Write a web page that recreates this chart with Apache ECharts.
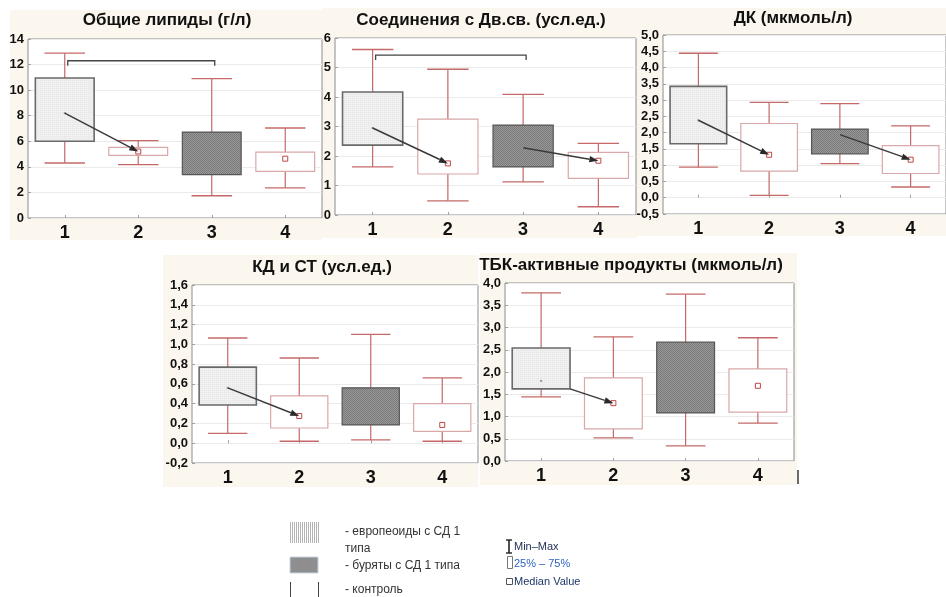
<!DOCTYPE html>
<html>
<head>
<meta charset="utf-8">
<script src="https://cdn.jsdelivr.net/npm/echarts@6/dist/echarts.min.js"></script>
<style>
html, body { margin: 0; padding: 0; background: #fff; }
#chart { width: 946px; height: 597px; }
</style>
</head>
<body>
<div id="chart"></div>
<script>
// Group labels on every x axis
const groups = ['1', '2', '3', '4'];

// Each row: [min, Q1, median, Q3, max] for groups 1..4 (null = median not shown)
const lipids      = [[4.3, 6.0, 8.2, 10.95, 12.9], [4.17, 4.9, 5.2, 5.52, 6.05], [1.74, 3.39, null, 6.72, 10.9], [2.35, 3.65, 4.64, 5.16, 7.04]];
const doubleBonds = [[1.63, 2.37, 2.95, 4.17, 5.61], [0.48, 1.39, 1.75, 3.25, 4.94], [1.12, 1.63, 2.28, 3.05, 4.09], [0.28, 1.24, 1.84, 2.12, 2.43]];
const dienes      = [[0.94, 1.66, 2.38, 3.42, 4.44], [0.07, 0.82, 1.32, 2.28, 2.93], [1.05, 1.35, 1.94, 2.11, 2.89], [0.33, 0.745, 1.17, 1.60, 2.21]];
const ketodienes  = [[0.10, 0.387, 0.56, 0.77, 1.064], [0.02, 0.154, 0.275, 0.478, 0.862], [0.033, 0.185, null, 0.56, 1.10], [0.02, 0.12, 0.185, 0.40, 0.66]];
const tbaProducts = [[1.44, 1.62, 1.80, 2.54, 3.78], [0.52, 0.72, 1.30, 1.87, 2.79], [0.34, 1.08, null, 2.67, 3.75], [0.85, 1.10, 1.69, 2.07, 2.77]];

// Arrows: [from group, from value, to group, to value]
const lipidsArrows      = [[0, 8.2, 1, 5.2]];
const doubleBondsArrows = [[0, 2.95, 1, 1.75], [2, 2.28, 3, 1.84]];
const dienesArrows      = [[0, 2.38, 1, 1.32], [2, 1.94, 3, 1.17]];
const ketodienesArrows  = [[0, 0.56, 1, 0.275]];
const tbaArrows         = [[0, 1.62, 1, 1.30]];

// Significance brackets: [from group, to group, level]
const lipidsBrackets      = [[0, 2, 12.3]];
const doubleBondsBrackets = [[0, 2, 5.42]];

const titles = ['Общие липиды (г/л)', 'Соединения с Дв.св. (усл.ед.)', 'ДК (мкмоль/л)', 'КД и СТ (усл.ед.)', 'ТБК-активные продукты (мкмоль/л)'];
const yMin  = [0, 0, -0.5, -0.2, 0];
const yMax  = [14, 6, 5, 1.6, 4];
const yStep = [2, 1, 0.5, 0.2, 0.5];
const yDecimals = [0, 0, 1, 1, 1];

const legendGroups = ['- европеоиды с СД 1', 'типа', '- буряты с СД 1 типа', '- контроль'];
const legendStats  = ['Min–Max', '25% – 75%', 'Median Value'];

const boxesByPanel    = [lipids, doubleBonds, dienes, ketodienes, tbaProducts];
const arrowsByPanel   = [lipidsArrows, doubleBondsArrows, dienesArrows, ketodienesArrows, tbaArrows];
const bracketsByPanel = [lipidsBrackets, doubleBondsBrackets, [], [], []];

// Panel geometry: plot rectangle [left, top, width, height], beige backdrop, title anchor
const panelLayout = [
  { grid: { left: 28, top: 39, width: 294, height: 179 },  back: [10, 10, 312, 230],  title: [167, 20], arrowFromEdge: false },
  { grid: { left: 335, top: 38, width: 301, height: 177 }, back: [322, 8, 315, 230],  title: [481, 20], arrowFromEdge: false },
  { grid: { left: 663, top: 35, right: -7, height: 179 },  back: [637, 8, 309, 228],  title: [793, 18], arrowFromEdge: false },
  { grid: { left: 192, top: 285, width: 286, height: 178 }, back: [163, 255, 315, 232], title: [322, 267], arrowFromEdge: false },
  { grid: { left: 505, top: 283, width: 289, height: 178 }, back: [480, 253, 317, 232], title: [631, 265], arrowFromEdge: true }
];

function makePattern(w, h, paint) {
  const cv = document.createElement('canvas');
  cv.width = w; cv.height = h;
  const ctx = cv.getContext('2d');
  paint(ctx);
  return { image: cv, repeat: 'repeat' };
}
const lightFill = makePattern(2, 2, ctx => {
  ctx.fillStyle = '#f0f0f0'; ctx.fillRect(0, 0, 2, 2);
  ctx.fillStyle = '#e6e6e6'; ctx.fillRect(0, 0, 1, 1);
});
const darkFill = makePattern(2, 2, ctx => {
  ctx.fillStyle = '#979797'; ctx.fillRect(0, 0, 2, 2);
  ctx.fillStyle = '#7b7b7b'; ctx.fillRect(0, 0, 1, 1); ctx.fillRect(1, 1, 1, 1);
});
const stripeFill = makePattern(2, 2, ctx => {
  ctx.fillStyle = '#ffffff'; ctx.fillRect(0, 0, 2, 2);
  ctx.fillStyle = '#b4b4b4'; ctx.fillRect(0, 0, 1, 2);
});

const WHISKER = '#c46868';
const PLAIN_BORDER = '#d9a8a8';

function renderBox(params, api) {
  const g = api.value(0);
  const mn = api.value(1), q1 = api.value(2), md = api.value(3), q3 = api.value(4), mx = api.value(5);
  const band = api.size([1, 0])[0];
  const x = api.coord([g, 0])[0];
  const y = v => api.coord([g, v])[1];
  const bw = band * 0.8, cw = band * 0.55;
  const kind = g === 0 ? 'light' : (g === 2 ? 'dark' : 'plain');
  const children = [
    { type: 'line', shape: { x1: x, y1: y(mn), x2: x, y2: y(mx) }, style: { stroke: WHISKER, lineWidth: 1.2 } },
    { type: 'line', shape: { x1: x - cw / 2, y1: y(mn), x2: x + cw / 2, y2: y(mn) }, style: { stroke: WHISKER, lineWidth: 1.3 } },
    { type: 'line', shape: { x1: x - cw / 2, y1: y(mx), x2: x + cw / 2, y2: y(mx) }, style: { stroke: WHISKER, lineWidth: 1.3 } }
  ];
  const boxStyle = kind === 'light' ? { fill: lightFill, stroke: '#6a6a6a', lineWidth: 1.6 }
                 : kind === 'dark'  ? { fill: darkFill, stroke: '#555555', lineWidth: 1.2 }
                 : { fill: '#ffffff', stroke: PLAIN_BORDER, lineWidth: 1.2 };
  children.push({ type: 'rect', shape: { x: x - bw / 2, y: y(q3), width: bw, height: y(q1) - y(q3) }, style: boxStyle });
  if (md != null && !isNaN(md)) {
    if (kind === 'plain') {
      children.push({ type: 'rect', shape: { x: x - 2.5, y: y(md) - 2.5, width: 5, height: 5 }, style: { fill: '#fff', stroke: '#c04646', lineWidth: 1 } });
    } else {
      children.push({ type: 'rect', shape: { x: x - 1, y: y(md) - 1, width: 2, height: 2 }, style: { fill: '#9a9a9a' } });
    }
  }
  return { type: 'group', children };
}

function arrowRenderer(fromEdge) {
  return function (params, api) {
    const band = api.size([1, 0])[0];
    const p0 = api.coord([api.value(0), api.value(1)]);
    const p1 = api.coord([api.value(2), api.value(3)]);
    if (fromEdge) p0[0] += band * 0.4;
    const ang = Math.atan2(p1[1] - p0[1], p1[0] - p0[0]);
    const dx = Math.cos(ang), dy = Math.sin(ang);
    const L = 9, W = 3.2;
    const bx = p1[0] - L * dx, by = p1[1] - L * dy;
    return {
      type: 'group',
      children: [
        { type: 'line', shape: { x1: p0[0], y1: p0[1], x2: bx, y2: by }, style: { stroke: '#3a3a3a', lineWidth: 1.5 } },
        { type: 'polygon', shape: { points: [[p1[0], p1[1]], [bx - W * dy, by + W * dx], [bx + W * dy, by - W * dx]] }, style: { fill: '#2a2a2a' } }
      ]
    };
  };
}

function renderBracket(params, api) {
  const a = api.coord([api.value(0), api.value(2)]);
  const b = api.coord([api.value(1), api.value(2)]);
  const t = 5;
  return {
    type: 'polyline',
    shape: { points: [[a[0] + 3, a[1] + t], [a[0] + 3, a[1]], [b[0] + 3, b[1]], [b[0] + 3, b[1] + t]] },
    style: { stroke: '#444', lineWidth: 1.3, fill: null }
  };
}

const grids = [], xAxes = [], yAxes = [], series = [], graphics = [];
panelLayout.forEach((p, i) => {
  grids.push(Object.assign({ show: true, backgroundColor: '#ffffff', borderColor: '#8c8c8c', borderWidth: 1 }, p.grid));
  xAxes.push({
    type: 'category', gridIndex: i, data: groups,
    axisLine: { show: false },
    axisTick: { show: true, inside: true, alignWithLabel: true, length: 3, lineStyle: { color: '#a0a0a0' } },
    axisLabel: { color: '#111', fontSize: 18, fontWeight: 'bold', fontFamily: 'Liberation Sans', margin: 6 },
    splitLine: { show: false }
  });
  yAxes.push({
    type: 'value', gridIndex: i, min: yMin[i], max: yMax[i], interval: yStep[i],
    axisLine: { show: false },
    axisTick: { show: true, inside: true, length: 3, lineStyle: { color: '#a0a0a0' } },
    axisLabel: {
      color: '#111', fontSize: 13, fontWeight: 'bold', fontFamily: 'Liberation Sans', margin: 4,
      formatter: v => v.toFixed(yDecimals[i]).replace('.', ',')
    },
    splitLine: { show: true, lineStyle: { color: '#ebebeb', width: 1 } }
  });
  series.push({
    type: 'custom', xAxisIndex: i, yAxisIndex: i, renderItem: renderBox, z: 3,
    data: boxesByPanel[i].map((r, g) => [g].concat(r.map(v => v == null ? NaN : v)))
  });
  if (bracketsByPanel[i].length) {
    series.push({ type: 'custom', xAxisIndex: i, yAxisIndex: i, renderItem: renderBracket, z: 4, data: bracketsByPanel[i] });
  }
  series.push({ type: 'custom', xAxisIndex: i, yAxisIndex: i, renderItem: arrowRenderer(p.arrowFromEdge), z: 5, data: arrowsByPanel[i] });

  const [bx, by, bw, bh] = p.back;
  graphics.push({ type: 'rect', z: -10, shape: { x: bx, y: by, width: bw, height: bh }, style: { fill: '#fcf7ee' } });
  graphics.push({
    type: 'text', z: 10, x: p.title[0], y: p.title[1],
    style: { text: titles[i], font: 'bold 17px "Liberation Sans"', fill: '#111', align: 'center', verticalAlign: 'middle' }
  });
});

// Legend: group swatches
graphics.push({ type: 'rect', shape: { x: 290, y: 522, width: 30, height: 21 }, style: { fill: stripeFill } });
graphics.push({ type: 'rect', shape: { x: 290, y: 557, width: 28, height: 16 }, style: { fill: '#8e8e8e', stroke: '#c8d4e4', lineWidth: 1 } });
graphics.push({ type: 'line', shape: { x1: 290.5, y1: 582, x2: 290.5, y2: 597 }, style: { stroke: '#444', lineWidth: 1 } });
graphics.push({ type: 'line', shape: { x1: 318.5, y1: 582, x2: 318.5, y2: 597 }, style: { stroke: '#444', lineWidth: 1 } });
const legendY = [532, 549, 566, 590];
legendGroups.forEach((s, k) => graphics.push({
  type: 'text', x: 345, y: legendY[k],
  style: { text: s, font: '12px "Liberation Sans"', fill: '#333', verticalAlign: 'middle' }
}));

// Legend: statistics key
graphics.push({ type: 'polyline', shape: { points: [[506, 540], [512, 540]] }, style: { stroke: '#222', lineWidth: 1.4 } });
graphics.push({ type: 'polyline', shape: { points: [[506, 553], [512, 553]] }, style: { stroke: '#222', lineWidth: 1.4 } });
graphics.push({ type: 'line', shape: { x1: 509, y1: 540, x2: 509, y2: 553 }, style: { stroke: '#222', lineWidth: 1.6 } });
graphics.push({ type: 'rect', shape: { x: 507.5, y: 556.5, width: 5, height: 12 }, style: { fill: '#fff', stroke: '#777', lineWidth: 1 } });
graphics.push({ type: 'rect', shape: { x: 506.5, y: 578.5, width: 6, height: 6 }, style: { fill: '#fff', stroke: '#555', lineWidth: 1 } });
const statY = [547, 564, 582];
const statColor = ['#1d2b55', '#2f62c0', '#1d3568'];
legendStats.forEach((s, k) => graphics.push({
  type: 'text', x: 514, y: statY[k],
  style: { text: s, font: '11px "Liberation Sans"', fill: statColor[k], verticalAlign: 'middle' }
}));

// Stray frame tick at lower right of the last panel
graphics.push({ type: 'line', shape: { x1: 798, y1: 470, x2: 798, y2: 484 }, style: { stroke: '#6a6a6a', lineWidth: 2 } });

const chart = echarts.init(document.getElementById('chart'), null, { renderer: 'canvas' });
chart.setOption({
  animation: false,
  backgroundColor: '#ffffff',
  grid: grids,
  xAxis: xAxes,
  yAxis: yAxes,
  series: series,
  graphic: { elements: graphics }
});
</script>
</body>
</html>
